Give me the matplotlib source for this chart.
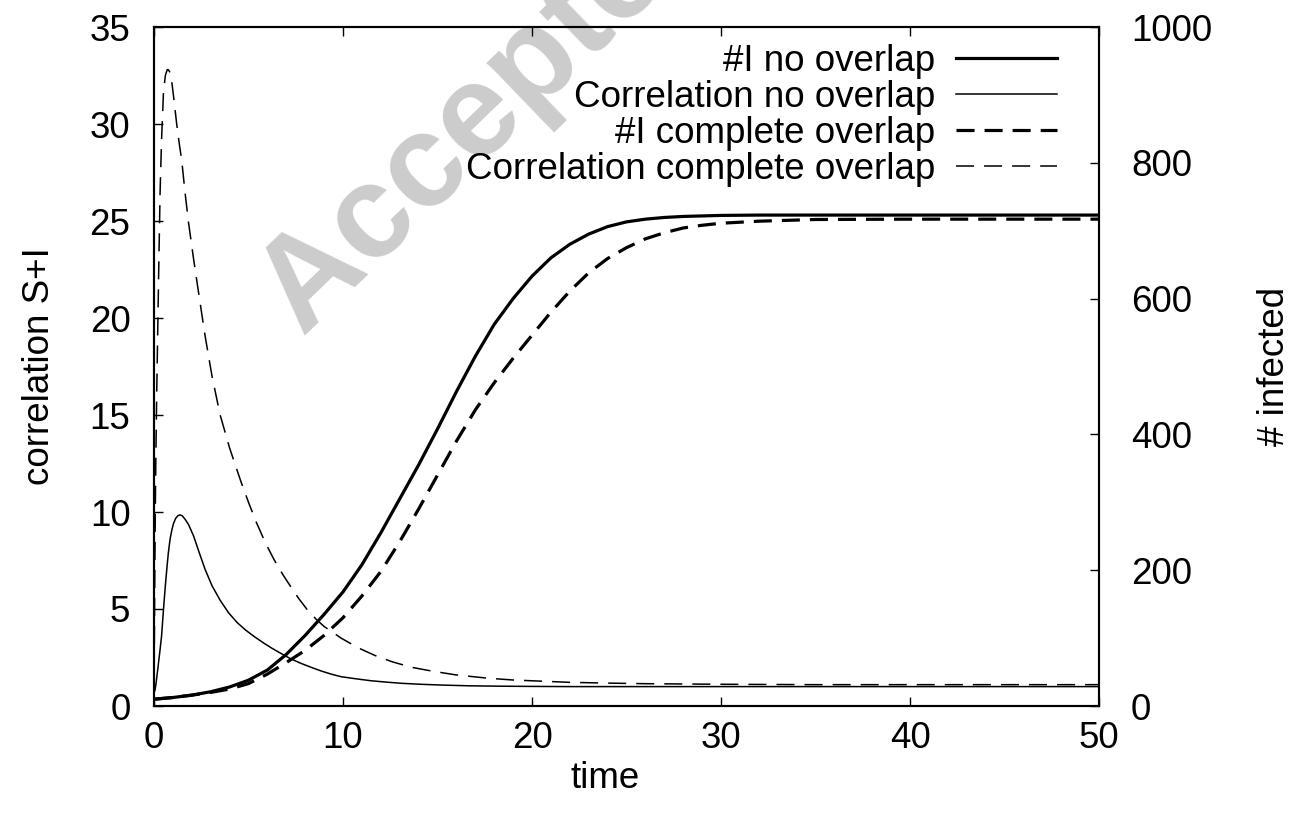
import matplotlib
matplotlib.use("Agg")
import matplotlib.pyplot as plt

plt.rcParams['font.family'] = ['Liberation Sans', 'DejaVu Sans']
plt.rcParams['lines.scale_dashes'] = False

# ---- data ----
# Correlation, complete overlap (thin dashed, left axis)
t_cc = [0, 0.02, 0.04, 0.06, 0.08, 0.1, 0.15, 0.2, 0.25, 0.32, 0.4, 0.5, 0.6, 0.7,
        0.76, 0.85, 0.95, 1.05, 1.2, 1.35, 1.47, 1.65, 1.83, 2.1, 2.36, 2.7, 3.07,
        3.5, 4.0, 4.57, 5.0, 5.4, 5.9, 6.35, 6.8, 7.2, 7.65, 8.12, 8.6, 9.0, 9.45,
        9.9, 10.8, 11.7, 12.6, 13.6, 14.7, 16.0, 17.7, 19, 20.5, 22, 24, 26, 30,
        35, 50]
corr_complete = [0.3, 3.5, 6.5, 9, 11.2, 13, 16.5, 19.5, 22.5, 26.4, 29.2, 31.6,
                 32.5, 32.8, 32.8, 32.65, 32.1, 31.3, 30.0, 28.9, 28.1, 26.4, 24.9,
                 23.0, 21.3, 19.1, 17.0, 15.0, 13.3, 11.65, 10.5, 9.5, 8.4, 7.55,
                 6.8, 6.2, 5.55, 4.95, 4.45, 4.1, 3.8, 3.5, 3.0, 2.6, 2.28, 2.0,
                 1.8, 1.6, 1.43, 1.34, 1.28, 1.22, 1.18, 1.15, 1.12, 1.1, 1.1]

# Correlation, no overlap (thin solid, left axis)
t_cn = [0, 0.05, 0.1, 0.2, 0.32, 0.4, 0.5, 0.6, 0.7, 0.76, 0.85, 0.95, 1.03, 1.15,
        1.28, 1.38, 1.5, 1.65, 1.83, 2.1, 2.36, 2.7, 3.07, 3.5, 3.95, 4.4, 4.84,
        5.3, 5.8, 6.25, 6.7, 7.2, 7.77, 8.3, 8.8, 9.35, 9.9, 10.7, 11.5, 12.3,
        13.1, 14.1, 15.2, 16.7, 18.4, 20, 22, 30, 40, 50]
corr_none = [0.7, 0.8, 1.1, 1.9, 2.9, 3.6, 4.95, 6.2, 7.3, 7.9, 8.6, 9.1, 9.4, 9.68,
             9.82, 9.85, 9.8, 9.62, 9.35, 8.75, 8.0, 7.05, 6.2, 5.45, 4.8, 4.3,
             3.92, 3.58, 3.25, 2.97, 2.72, 2.45, 2.2, 2.0, 1.82, 1.65, 1.51, 1.4,
             1.3, 1.23, 1.17, 1.12, 1.08, 1.04, 1.02, 1.01, 1.0, 1.0, 1.0, 1.0]

# Number infected, no overlap (thick solid, right axis)
t_in = [0, 1, 2, 3, 4, 5, 6, 7, 8, 9, 10, 11, 12, 13, 14, 15, 16, 17, 18, 19, 20,
        21, 22, 23, 24, 25, 26, 27, 28, 30, 32, 35, 40, 50]
inf_none = [10, 12.5, 16, 21, 28, 38, 53, 76, 104, 135, 168, 208, 255, 305, 355,
            408, 463, 515, 562, 600, 633, 660, 680, 695, 706, 713, 717, 719.5,
            721, 722.5, 723, 723, 723, 723]

# Number infected, complete overlap (thick dashed, right axis)
t_ic = [0, 1, 2, 3, 4, 5, 6, 7, 8, 9, 10, 11, 12, 13, 14, 15, 16, 17, 18, 19, 20,
        21, 22, 23, 24, 25, 26, 27, 28, 29, 30, 32, 35, 40, 50]
inf_complete = [10, 12.5, 16, 20, 25, 33, 47, 64, 82, 104, 130, 162, 198, 242, 290,
                340, 390, 436, 476, 512, 546, 580, 611, 638, 659, 675, 688, 697,
                704, 708, 711, 714, 716.5, 717, 717]

x_ticks = [0, 10, 20, 30, 40, 50]
y_ticks = [0, 5, 10, 15, 20, 25, 30, 35]
y2_ticks = [0, 200, 400, 600, 800, 1000]

labels = ["#I no overlap", "Correlation no overlap",
          "#I complete overlap", "Correlation complete overlap"]

FS = 26.5
W, H = 1301, 817
fig = plt.figure(figsize=(W / 100, H / 100), dpi=100, facecolor='white')
L, R, T, B = 154, 1099, 27, 706
ax = fig.add_axes([L / W, 1 - B / H, (R - L) / W, (B - T) / H])
ax.patch.set_visible(False)
ax2 = ax.twinx()
ax2.patch.set_visible(False)

# watermark behind everything
fig.text(302 / W, 1 - 336 / H, "Accepted", fontsize=95, fontweight='bold',
         color='#cccccc', rotation=44, rotation_mode='anchor',
         ha='left', va='baseline', zorder=-5)

thick, thin = 2.3, 1.1
dash = (0, (13, 7.2))

l2, = ax.plot(t_cn, corr_none, color='black', lw=thin)
l4, = ax.plot(t_cc, corr_complete, color='black', lw=thin, linestyle=dash)
l1, = ax2.plot(t_in, inf_none, color='black', lw=thick)
l3, = ax2.plot(t_ic, inf_complete, color='black', lw=thick, linestyle=dash)

ax.set_xlim(0, 50)
ax.set_ylim(0, 35)
ax2.set_ylim(0, 1000)
ax.set_xticks(x_ticks)
ax.set_yticks(y_ticks)
ax2.set_yticks(y2_ticks)

for a in (ax, ax2):
    for s in a.spines.values():
        s.set_linewidth(1.5)

ax.tick_params(axis='x', direction='in', length=6.5, width=1.0, top=True,
               labelsize=FS, pad=11)
ax.tick_params(axis='y', direction='in', length=6.5, width=1.0, right=False,
               labelsize=FS, pad=17)
ax2.tick_params(axis='y', direction='in', length=6.5, width=1.0,
                labelsize=FS, pad=23)

ax.set_xlabel("time", fontsize=FS)
ax.xaxis.set_label_coords((605 - L) / (R - L), (B - 778) / (B - T))
ax.xaxis.label.set_va('center')

ax.set_ylabel("correlation S+I", fontsize=FS)
ax.yaxis.set_label_coords((40 - L) / (R - L), 0.5)
ax.yaxis.label.set_va('center')

ax2.set_ylabel("# infected", fontsize=FS)
ax2.yaxis.set_label_coords((1274 - L) / (R - L), 0.5)
ax2.yaxis.label.set_va('center')
ax2.yaxis.label.set_rotation(90)

leg = ax2.legend([l1, l2, l3, l4], labels, loc='upper right',
                 bbox_to_anchor=((1057 - L) / (R - L), (B - 44) / (B - T)),
                 frameon=False, markerfirst=False, fontsize=FS,
                 handlelength=2.75, handletextpad=0.55, labelspacing=0.03,
                 borderpad=0, borderaxespad=0)

fig.savefig("out.png", dpi=100, facecolor='white')
